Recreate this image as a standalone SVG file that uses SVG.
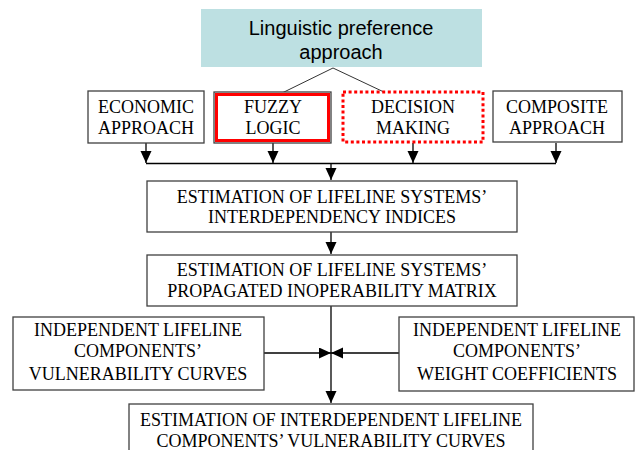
<svg xmlns="http://www.w3.org/2000/svg" width="640" height="450" viewBox="0 0 640 450">
<style>
.box{fill:#fff;stroke:#404040;stroke-width:1.3}
.t{font-family:"Liberation Serif","Times New Roman",serif;font-size:18px;fill:#000;text-anchor:middle}
.h{font-family:"Liberation Sans",Arial,sans-serif;font-size:20px;fill:#000;text-anchor:middle}
.c{fill:none;stroke:#000;stroke-width:1.3}
.thin{fill:none;stroke:#333;stroke-width:1}
</style>
<defs>
<marker id="ah" markerUnits="userSpaceOnUse" markerWidth="12" markerHeight="12" refX="12" refY="5.5" orient="auto">
<path d="M0,0 L12,5.5 L0,11 z" fill="#000"/>
</marker>
</defs>
<rect width="640" height="450" fill="#fff"/>
<g id="connectors">
<line class="thin" x1="333" y1="68" x2="282" y2="93"/>
<line class="thin" x1="333" y1="68" x2="386" y2="93"/>
<line class="c" x1="146" y1="143" x2="146" y2="163" marker-end="url(#ah)"/>
<line class="c" x1="273" y1="143" x2="273" y2="163" marker-end="url(#ah)"/>
<line class="c" x1="413" y1="143" x2="413" y2="163" marker-end="url(#ah)"/>
<line class="c" x1="556" y1="143" x2="556" y2="163" marker-end="url(#ah)"/>
<line class="c" x1="146" y1="163.5" x2="556" y2="163.5"/>
<line class="c" x1="331" y1="163" x2="331" y2="180" marker-end="url(#ah)"/>
<line class="c" x1="331" y1="232" x2="331" y2="254" marker-end="url(#ah)"/>
<line class="c" x1="331" y1="306" x2="331" y2="403" marker-end="url(#ah)"/>
<line class="c" x1="264" y1="353" x2="331" y2="353" marker-end="url(#ah)"/>
<line class="c" x1="399" y1="353" x2="331" y2="353" marker-end="url(#ah)"/>
</g>
<g id="linguistic">
<rect x="201" y="9" width="281" height="58" fill="#bde0e2"/>
<text class="h" x="341" y="35">Linguistic preference</text>
<text class="h" x="341" y="59">approach</text>
</g>
<g id="economic">
<rect class="box" x="88" y="91" width="116" height="52"/>
<text class="t" x="146" y="113">ECONOMIC</text>
<text class="t" x="146" y="134">APPROACH</text>
</g>
<g id="fuzzy">
<rect class="box" x="214" y="92" width="117" height="51"/>
<rect x="216.5" y="94.5" width="112" height="46" fill="none" stroke="#ff0000" stroke-width="3"/>
<text class="t" x="273" y="113">FUZZY</text>
<text class="t" x="273" y="134">LOGIC</text>
</g>
<g id="decision">
<rect x="343" y="92" width="140" height="50" fill="#fff" stroke="#ff0000" stroke-width="3" stroke-dasharray="3,2.6"/>
<text class="t" x="413" y="113">DECISION</text>
<text class="t" x="413" y="134">MAKING</text>
</g>
<g id="composite">
<rect class="box" x="493" y="91" width="129" height="51"/>
<text class="t" x="557" y="113">COMPOSITE</text>
<text class="t" x="557" y="134">APPROACH</text>
</g>
<g id="interdependency">
<rect class="box" x="147" y="181" width="370" height="51"/>
<text class="t" x="332" y="203">ESTIMATION OF LIFELINE SYSTEMS’</text>
<text class="t" x="332" y="223">INTERDEPENDENCY INDICES</text>
</g>
<g id="inoperability">
<rect class="box" x="147" y="255" width="370" height="51"/>
<text class="t" x="332" y="276">ESTIMATION OF LIFELINE SYSTEMS’</text>
<text class="t" x="332" y="297">PROPAGATED INOPERABILITY MATRIX</text>
</g>
<g id="vulnerability">
<rect class="box" x="13" y="317" width="251" height="73"/>
<text class="t" x="138" y="336">INDEPENDENT LIFELINE</text>
<text class="t" x="138" y="357">COMPONENTS’</text>
<text class="t" x="138" y="380">VULNERABILITY CURVES</text>
</g>
<g id="weight">
<rect class="box" x="399" y="317" width="235" height="74"/>
<text class="t" x="517" y="336">INDEPENDENT LIFELINE</text>
<text class="t" x="517" y="357">COMPONENTS’</text>
<text class="t" x="517" y="380">WEIGHT COEFFICIENTS</text>
</g>
<g id="interdependent-curves">
<rect class="box" x="129" y="404" width="404" height="60"/>
<text class="t" x="331" y="426">ESTIMATION OF INTERDEPENDENT LIFELINE</text>
<text class="t" x="331" y="447">COMPONENTS’ VULNERABILITY CURVES</text>
</g>
</svg>
